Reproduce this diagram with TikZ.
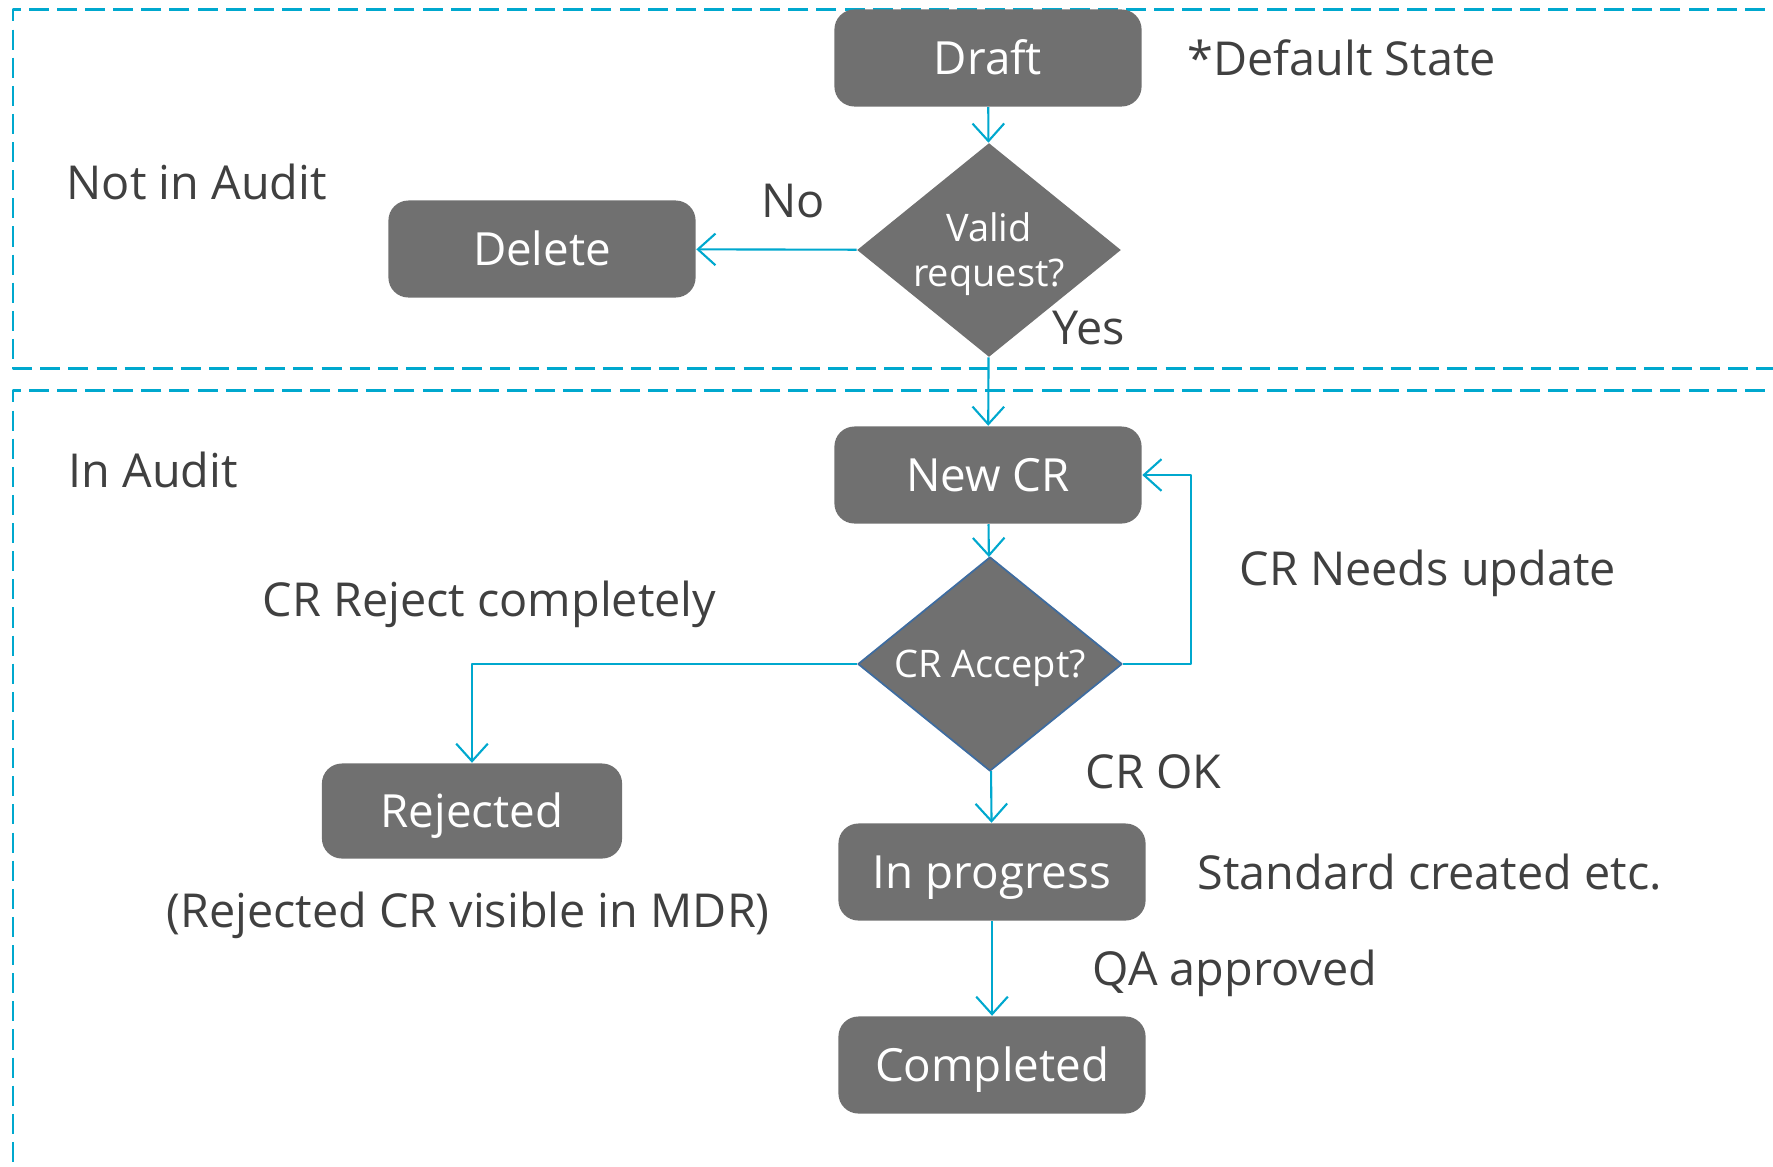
\documentclass[tikz,border=0pt]{standalone}
\usepackage{fontspec}
\setmainfont{Open Sans}
\usetikzlibrary{shapes.geometric,arrows.meta}
\definecolor{boxgray}{RGB}{112,112,112}
\definecolor{flowblue}{RGB}{0,168,206}
\definecolor{notegray}{RGB}{64,64,64}
\definecolor{edgeblue}{RGB}{62,108,160}
\tikzset{
	state/.style={fill=boxgray, text=white, rounded corners=0.2cm, minimum width=3.07cm, minimum height=0.97cm, inner sep=0pt, font=\fontsize{13}{15}\selectfont, text height=9.3pt, text depth=0pt},
	decision/.style={diamond, fill=boxgray, text=white, inner sep=0pt, aspect=1.23, minimum width=2.64cm, minimum height=2.14cm, align=center, font=\fontsize{10.8}{12.8}\selectfont, text depth=0pt},
	note/.style={text=notegray, inner sep=0pt, text height=9.5pt, text depth=0pt},
	flow/.style={draw=flowblue, line width=0.6pt, ->},
	zone/.style={draw=flowblue, line width=0.85pt, dash pattern=on 5.7pt off 2.3pt},
}
\begin{document}
\begin{tikzpicture}[x=0.01cm, y=-0.01cm, font=\fontsize{13.3}{15.5}\selectfont, line join=round, >={Straight Barb[length=5pt,width=9pt]}]
			\def\xmax{1773} \def\ymax{1166}
			\useasboundingbox (0,0) rectangle (\xmax,\ymax);
			% zones
			\draw[zone] (\xmax+20,9) -- (13,9) -- (13,368) -- (\xmax+20,368);
			\draw[zone] (\xmax+20,390) -- (13,390) -- (13,\ymax+20);
			\node[note, anchor=west] (notaudit) at (66,183) {Not in Audit};
			\node[note, anchor=west] (inaudit) at (68,471) {In Audit};
			% states
			\node[state] (draft) at (988,58) {Draft};
			\node[decision] (valid) at (989,250) {Valid\\request?};
			\node[state] (delete) at (542,249) {Delete};
			\node[state] (newcr) at (988,475) {New CR};
			\node[decision, draw=edgeblue, line width=0.5pt] (accept) at (990,664) {CR Accept?};
			\node[state, minimum width=3cm, minimum height=0.95cm] (rejected) at (472,811) {Rejected};
			\node[state] (inprog) at (992,872) {In progress};
			\node[state] (completed) at (992,1065) {Completed};
			% notes
			\node[note, anchor=west] (dflt) at (1187,59) {*Default State};
			\node[note] (no) at (793,201) {No};
			\node[note] (yes) at (1089,328) {Yes};
			\node[note, anchor=west] (update) at (1239,569) {CR Needs update};
			\node[note, anchor=west] (rejall) at (262,600) {CR Reject completely};
			\node[note] (visible) at (468,911) {(Rejected CR visible in MDR)};
			\node[note, anchor=west] (crok) at (1085,772) {CR OK};
			\node[note, anchor=west] (std) at (1197,873) {Standard created etc.};
			\node[note, anchor=west] (qa) at (1092,969) {QA approved};
			% flow
			\draw[flow] (draft) -- (valid);
			\draw[flow] (valid) -- (delete);
			\draw[flow] (valid) -- (newcr);
			\draw[flow] (newcr) -- (accept);
			\draw[flow] (accept.east) -- ++(68,0) |- (newcr.east);
			\draw[flow] (accept.west) -| (rejected.north);
			\draw[flow] (accept) -- (inprog);
			\draw[flow] (inprog) -- (completed);
		\end{tikzpicture}
\end{document}
